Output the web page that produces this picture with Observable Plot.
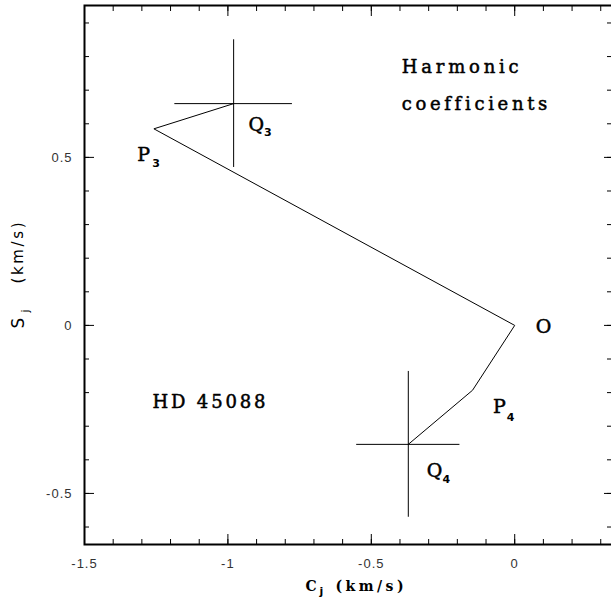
<!DOCTYPE html>
<html>
<head>
<meta charset="utf-8">
<script src="https://cdn.jsdelivr.net/npm/d3@7"></script>
<script src="https://cdn.jsdelivr.net/npm/@observablehq/plot@0.6"></script>
<style>
  body { margin: 0; background: #fff; }
  g[aria-label="x-axis tick label"] text, g[aria-label="y-axis tick label"] text { letter-spacing: 1px; }
</style>
</head>
<body>
<div id="chart"></div>
<script>
// ---- data ----
// polyline Q3 -> P3 -> O -> P4 -> Q4
const pathNames = ["Q3", "P3", "O", "P4", "Q4"];
const pathC = [-0.980, -1.258, 0.000, -0.147, -0.371];
const pathS = [0.660, 0.585, 0.000, -0.193, -0.354];

// error crosses
const errNames = ["Q3", "Q4"];
const errC = [-0.980, -0.371];
const errS = [0.660, -0.354];
const errDC = [0.205, 0.180];
const errDS = [0.190, 0.217];

// point labels (main letter + subscript), data positions
const labelMain = ["P", "Q", "O", "P", "Q"];
const labelC = [-1.316, -0.928, 0.073, -0.0755, -0.307];
const labelS = [0.488, 0.578, -0.023, -0.262, -0.452];
const subText = ["3", "3", "4", "4"];
const subC = [-1.264, -0.874, -0.028, -0.252];
const subS = [0.471, 0.5625, -0.283, -0.470];

// notes
const noteText = ["Harmonic", "coefficients"];
const noteC = [-0.394, -0.394];
const noteS = [0.750, 0.640];
const hdText = ["HD 45088"];
const hdC = [-1.263];
const hdS = [-0.247];

// axes
const xDomain = [-1.5, 0.3375];
const yDomain = [-0.652, 0.952];
const xMajor = [-1.5, -1, -0.5, 0];
const xMinor = [-1.5, -1.4, -1.3, -1.2, -1.1, -1.0, -0.9, -0.8, -0.7, -0.6, -0.5, -0.4, -0.3, -0.2, -0.1, 0, 0.1, 0.2, 0.3];
const yMajor = [-0.5, 0, 0.5];
const yMinor = [-0.6, -0.5, -0.4, -0.3, -0.2, -0.1, 0, 0.1, 0.2, 0.3, 0.4, 0.5, 0.6, 0.7, 0.8, 0.9];
const xTitle = ["C", "j", "(km/s)"];
const yTitle = ["S", "j", "(km/s)"];

// letter-spaced text widths seen in the reference (style table)
const spacedText = ["Harmonic", "coefficients", "HD 45088", "(km/s)", "(km/s)"];
const spacedRotated = [false, false, false, false, true];
const spacedWidth = [117, 145, 113, 68, 61];

const serif = "DejaVu Serif";
const sans = "DejaVu Sans";
const idx = a => a.map((_, i) => i);

const chart = Plot.plot({
  width: 611,
  height: 604,
  marginLeft: 84,
  marginRight: 0,
  marginTop: 5,
  marginBottom: 60,
  style: { background: "#fff", color: "#000" },
  x: { domain: xDomain },
  y: { domain: yDomain },
  marks: [
    // error bars
    Plot.ruleY(idx(errNames), { y: i => errS[i], x1: i => errC[i] - errDC[i], x2: i => errC[i] + errDC[i], stroke: "#000", strokeWidth: 1 }),
    Plot.ruleX(idx(errNames), { x: i => errC[i], y1: i => errS[i] - errDS[i], y2: i => errS[i] + errDS[i], stroke: "#000", strokeWidth: 1 }),
    // polyline
    Plot.line(idx(pathNames), { x: i => pathC[i], y: i => pathS[i], stroke: "#000", strokeWidth: 1 }),

    // inward ticks on all four sides
    Plot.axisX(xMinor, { anchor: "bottom", tickSize: -5, fill: "none", label: null }),
    Plot.axisX(xMajor, { anchor: "bottom", tickSize: -10, fill: "none", label: null }),
    Plot.axisX(xMinor, { anchor: "top", tickSize: -5, fill: "none", label: null }),
    Plot.axisX(xMajor, { anchor: "top", tickSize: -10, fill: "none", label: null }),
    Plot.axisY(yMinor, { anchor: "left", tickSize: -5, fill: "none", label: null }),
    Plot.axisY(yMajor, { anchor: "left", tickSize: -10, fill: "none", label: null }),
    Plot.axisY(yMinor, { anchor: "right", tickSize: -5, fill: "none", label: null }),
    Plot.axisY(yMajor, { anchor: "right", tickSize: -8, fill: "none", label: null }),
    // tick labels
    Plot.axisX(xMajor, { anchor: "bottom", tickSize: 0, tickPadding: 14, tickFormat: d => String(d), fontSize: 13, fontFamily: "Liberation Sans", fill: "#333", label: null }),
    Plot.axisY(yMajor, { anchor: "left", tickSize: 0, tickPadding: 12, tickFormat: d => String(d), fontSize: 13, fontFamily: "Liberation Sans", fill: "#333", label: null }),

    Plot.frame({ stroke: "#000", strokeWidth: 2, insetRight: -2 }),

    // point labels
    Plot.text(idx(labelMain), { x: i => labelC[i], y: i => labelS[i], text: i => labelMain[i], textAnchor: "start", lineAnchor: "bottom", fontFamily: serif, fontSize: 19, fill: "#000", stroke: "#000", strokeWidth: 0.5 }),
    Plot.text(idx(subText), { x: i => subC[i], y: i => subS[i], text: i => subText[i], textAnchor: "start", lineAnchor: "bottom", fontFamily: sans, fontWeight: "bold", fontSize: 11, fill: "#000" }),
    // notes
    Plot.text(idx(noteText), { x: i => noteC[i], y: i => noteS[i], text: i => noteText[i], textAnchor: "start", lineAnchor: "bottom", fontFamily: serif, fontSize: 18, fill: "#000", stroke: "#000", strokeWidth: 0.5 }),
    Plot.text(idx(hdText), { x: i => hdC[i], y: i => hdS[i], text: i => hdText[i], textAnchor: "start", lineAnchor: "bottom", fontFamily: serif, fontSize: 18, fill: "#000", stroke: "#000", strokeWidth: 0.5 }),

    // x title
    Plot.text([xTitle[0]], { frameAnchor: "bottom", text: d => d, textAnchor: "start", lineAnchor: "bottom", dx: -42.5, dy: 46, fontFamily: serif, fontWeight: "bold", fontSize: 14, fill: "#000" }),
    Plot.text([xTitle[1]], { frameAnchor: "bottom", text: d => d, textAnchor: "start", lineAnchor: "bottom", dx: -28.5, dy: 50, fontFamily: sans, fontWeight: "bold", fontSize: 11, fill: "#000" }),
    Plot.text([xTitle[2]], { frameAnchor: "bottom", text: d => d, textAnchor: "start", lineAnchor: "bottom", dx: -12.5, dy: 46, fontFamily: serif, fontWeight: "bold", fontSize: 14, fill: "#000" }),
    // y title (rotated)
    Plot.text([yTitle[0]], { frameAnchor: "left", text: d => d, rotate: -90, textAnchor: "start", lineAnchor: "bottom", dx: -61, dy: 53.5, fontFamily: sans, fontSize: 17, fill: "#000" }),
    Plot.text([yTitle[1]], { frameAnchor: "left", text: d => d, rotate: -90, textAnchor: "start", lineAnchor: "bottom", dx: -56, dy: 37.5, fontFamily: sans, fontSize: 11, fill: "#000" }),
    Plot.text([yTitle[2]], { frameAnchor: "left", text: d => d, rotate: -90, textAnchor: "start", lineAnchor: "bottom", dx: -62, dy: 8.5, fontFamily: sans, fontSize: 15, fill: "#000" })
  ]
});
document.getElementById("chart").appendChild(chart);

// apply letter spacing so the spaced texts match the reference widths
d3.select(chart).selectAll("text").each(function () {
  const t = this.textContent;
  const rot = (this.getAttribute("transform") || "").includes("rotate");
  for (let k = 0; k < spacedText.length; k++) {
    if (spacedText[k] === t && spacedRotated[k] === rot) {
      const natural = this.getComputedTextLength();
      const ls = Math.max(0, (spacedWidth[k] - natural) / (t.length - 1));
      this.setAttribute("letter-spacing", ls.toFixed(2) + "px");
    }
  }
});
</script>
</body>
</html>
